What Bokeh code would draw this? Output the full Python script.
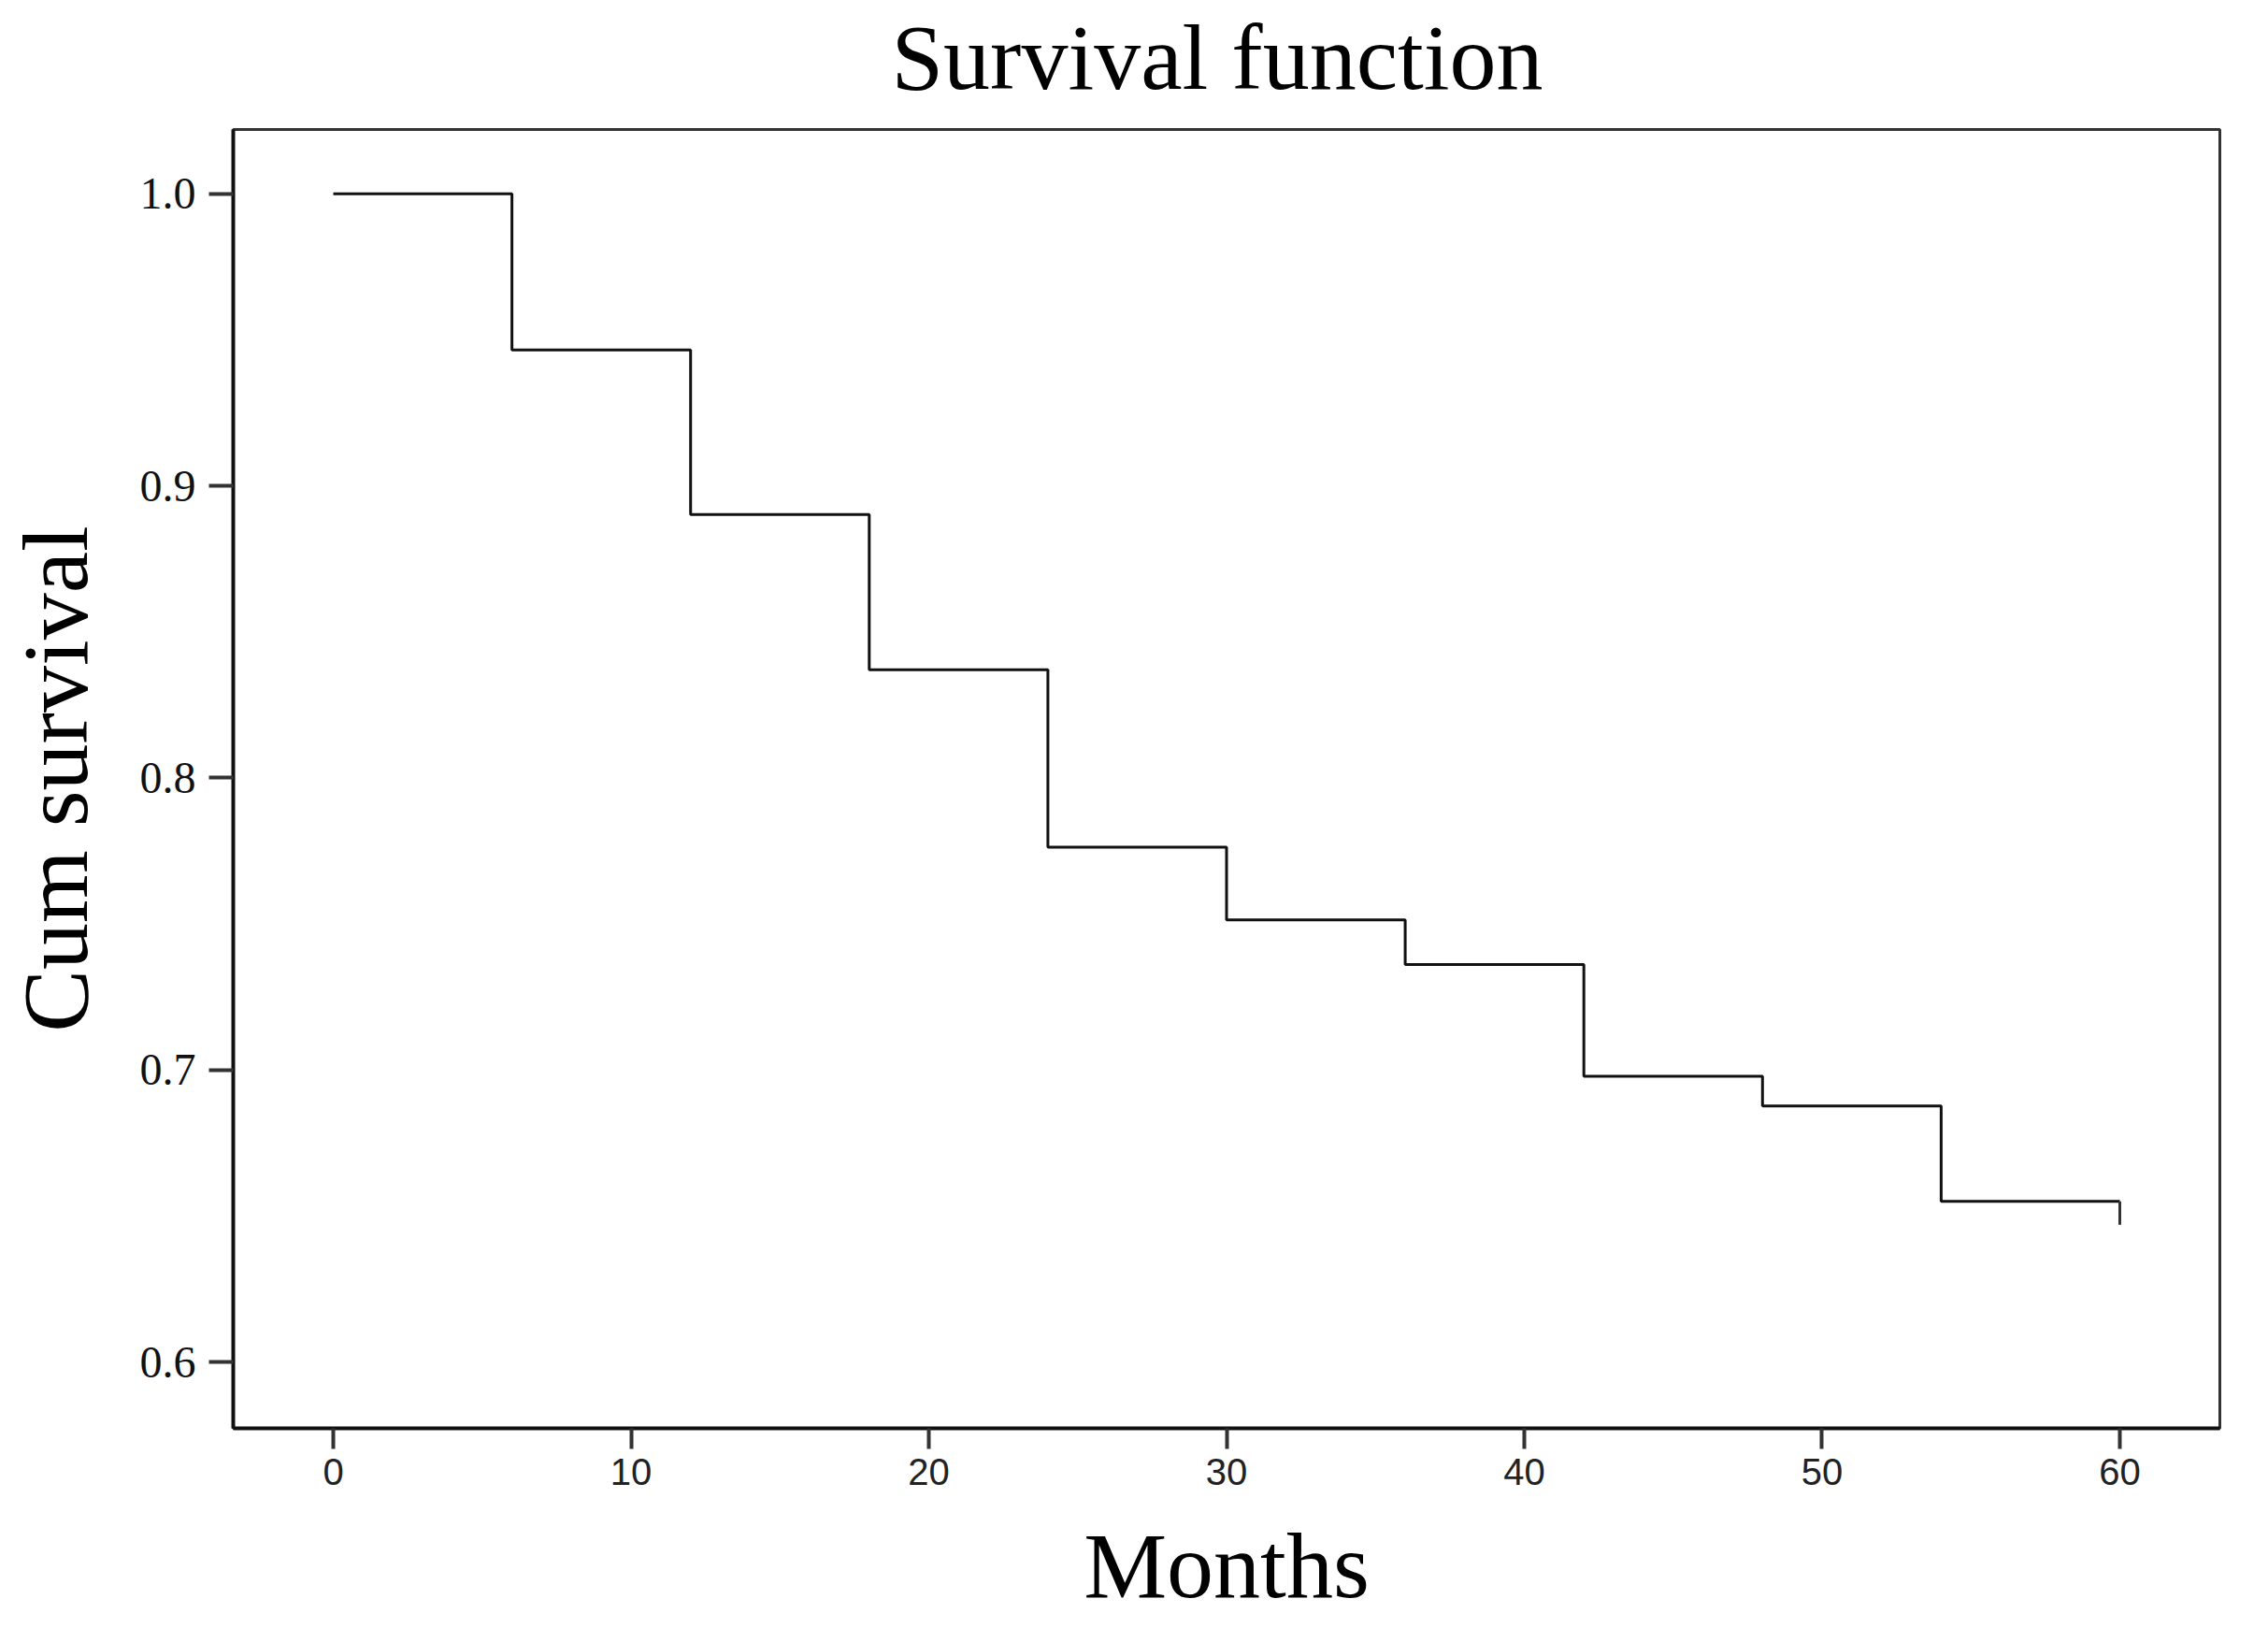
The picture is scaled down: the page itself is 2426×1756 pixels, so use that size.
from bokeh.plotting import figure
from bokeh.models import Range1d, FixedTicker, PrintfTickFormatter
from bokeh.embed import file_html
from bokeh.resources import INLINE

# ---- data ----
months = [0, 6, 12, 18, 24, 30, 36, 42, 48, 54, 60]
cum_survival = [1.0, 0.9465, 0.8902, 0.8370, 0.7763, 0.7514, 0.7361, 0.6978, 0.6877, 0.6550, 0.6550]
censor_months = [60]
censor_survival = [0.6550]
x_ticks = [0, 10, 20, 30, 40, 50, 60]
y_ticks = [0.6, 0.7, 0.8, 0.9, 1.0]
title_text = "Survival function"

SERIF = "Liberation Serif"
SANS = "Liberation Sans"

SHIFT = 18  # canvas moved up so the tall title panel fits
W, H = 2410, 1740 + SHIFT
ML, MR, MT, MB = 231, 36, 135 + SHIFT, 213

p = figure(width=W, height=H,
           x_range=Range1d(-3.36, 63.36), y_range=Range1d(0.5773, 1.022),
           output_backend="svg", toolbar_location=None,
           min_border_left=ML, min_border_right=MR,
           min_border_top=MT, min_border_bottom=MB,
           background_fill_color="white", border_fill_color="white")
p.margin = (-SHIFT, 0, 0, 0)

p.title.text = title_text
p.title.text_font = SERIF
p.title.text_font_size = "100px"
p.title.text_font_style = "normal"
p.title.text_color = "black"
p.title.align = "left"
p.title.offset = 704
p.title.standoff = 43

p.xgrid.visible = False
p.ygrid.visible = False
p.outline_line_color = "#333333"
p.outline_line_width = 3

# step curve
p.step(months, cum_survival, mode="after", line_color="#111111", line_width=3)
# censor tick
p.segment(x0=censor_months, y0=censor_survival, x1=censor_months,
          y1=[v - 0.008 for v in censor_survival], line_color="#333333", line_width=3)

# x axis
xa = p.xaxis[0]
xa.ticker = FixedTicker(ticks=x_ticks)
xa.axis_label = "Months"
xa.axis_label_text_font = SERIF
xa.axis_label_text_font_size = "100px"
xa.axis_label_text_font_style = "normal"
xa.axis_label_text_color = "black"
xa.axis_label_standoff = 28
xa.major_label_text_font = SANS
xa.major_label_text_font_size = "40px"
xa.major_label_text_color = "#222222"
xa.major_label_standoff = 10
xa.major_tick_out = 22
xa.major_tick_in = 0
xa.minor_tick_out = 0
xa.minor_tick_in = 0
xa.axis_line_width = 4
xa.axis_line_color = "#111111"
xa.major_tick_line_width = 4
xa.major_tick_line_color = "#333333"

# y axis
ya = p.yaxis[0]
ya.ticker = FixedTicker(ticks=y_ticks)
ya.formatter = PrintfTickFormatter(format="%.1f")
ya.axis_label = "Cum survival"
ya.axis_label_text_font = SERIF
ya.axis_label_text_font_size = "100px"
ya.axis_label_text_font_style = "normal"
ya.axis_label_text_color = "black"
ya.axis_label_standoff = 32
ya.major_label_text_font = SERIF
ya.major_label_text_font_size = "48px"
ya.major_label_text_color = "#111111"
ya.major_label_standoff = 14
ya.major_tick_out = 26
ya.major_tick_in = 0
ya.minor_tick_out = 0
ya.minor_tick_in = 0
ya.axis_line_width = 4
ya.axis_line_color = "#111111"
ya.major_tick_line_width = 4
ya.major_tick_line_color = "#333333"

open("out.html", "w").write(file_html(p, INLINE))
